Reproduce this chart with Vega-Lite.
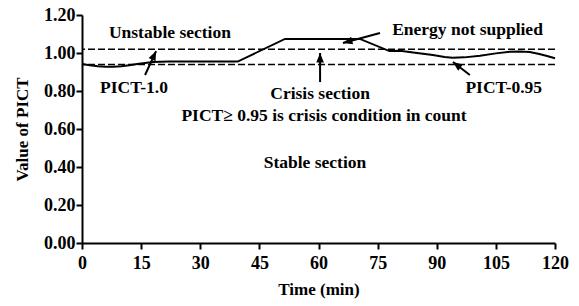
{
  "$schema": "https://vega.github.io/schema/vega-lite/v6.json",
  "width": 473,
  "height": 228,
  "autosize": {"type": "none"},
  "padding": {"left": 82, "top": 15, "right": 24, "bottom": 63},
  "background": "white",
  "config": {
    "view": {"stroke": null},
    "font": "Liberation Serif",
    "axis": {
      "domainColor": "black", "domainWidth": 2, "tickColor": "black", "tickWidth": 2, "tickSize": 6,
      "labelFont": "Liberation Serif", "labelFontSize": 18, "labelFontWeight": "bold", "labelColor": "black",
      "titleFont": "Liberation Serif", "titleFontSize": 17, "titleFontWeight": "bold", "titleColor": "black",
      "grid": false, "labelOverlap": false, "labelBound": false, "labelFlush": false
    }
  },
  "datasets": {
    "curve": [
      {"t": 0, "v": 0.942}, {"t": 2, "v": 0.935}, {"t": 4, "v": 0.930}, {"t": 6, "v": 0.928},
      {"t": 8, "v": 0.928}, {"t": 10, "v": 0.930}, {"t": 12, "v": 0.935}, {"t": 14, "v": 0.942},
      {"t": 16, "v": 0.948}, {"t": 18, "v": 0.952}, {"t": 20, "v": 0.954}, {"t": 22, "v": 0.955},
      {"t": 39.5, "v": 0.955}, {"t": 51.5, "v": 1.074}, {"t": 70.5, "v": 1.074}, {"t": 78, "v": 1.01},
      {"t": 80.7, "v": 1.012}, {"t": 84, "v": 1.003}, {"t": 89, "v": 0.989}, {"t": 92, "v": 0.979},
      {"t": 94, "v": 0.975}, {"t": 97, "v": 0.977}, {"t": 101, "v": 0.986}, {"t": 105, "v": 0.998},
      {"t": 108.6, "v": 1.006}, {"t": 111, "v": 1.008}, {"t": 113.6, "v": 1.005}, {"t": 116, "v": 0.995},
      {"t": 118, "v": 0.984}, {"t": 120, "v": 0.972}
    ],
    "refs": [{"v": 1.02}, {"v": 0.94}],
    "arrows": [
      {"t1": 16.0, "v1": 0.884, "t2": 18.8, "v2": 1.01, "ang": 25},
      {"t1": 60.4, "v1": 0.847, "t2": 60.4, "v2": 1.0, "ang": 0},
      {"t1": 75.6, "v1": 1.105, "t2": 66.2, "v2": 1.053, "ang": 255},
      {"t1": 98.4, "v1": 0.884, "t2": 94.1, "v2": 0.953, "ang": 307}
    ],
    "labels": [
      {"t": 22.3, "v": 1.105, "txt": "Unstable section"},
      {"t": 97.8, "v": 1.121, "txt": "Energy not supplied"},
      {"t": 13.2, "v": 0.816, "txt": "PICT-1.0"},
      {"t": 60.4, "v": 0.784, "txt": "Crisis section"},
      {"t": 107, "v": 0.816, "txt": "PICT-0.95"},
      {"t": 61.4, "v": 0.668, "txt": "PICT≥ 0.95 is crisis condition in count"},
      {"t": 59.1, "v": 0.421, "txt": "Stable section"}
    ]
  },
  "encoding": {
    "y": {"type": "quantitative", "scale": {"domain": [0, 1.2], "nice": false},
          "axis": {"tickCount": 6, "format": ".2f", "title": "Value of PICT", "labelPadding": 1, "titlePadding": 12, "labelOverlap": false}}
  },
  "layer": [
    {
      "data": {"name": "curve"},
      "mark": {"type": "line", "color": "black", "strokeWidth": 2},
      "encoding": {
        "x": {"field": "t", "type": "quantitative", "scale": {"domain": [0, 120], "nice": false},
              "axis": {"values": [0, 15, 30, 45, 60, 75, 90, 105, 120], "title": "Time (min)", "labelPadding": 5, "titlePadding": 9, "labelOverlap": false}},
        "y": {"field": "v", "type": "quantitative", "scale": {"domain": [0, 1.2], "nice": false},
              "axis": {"tickCount": 6, "format": ".2f", "title": "Value of PICT", "labelPadding": 1, "titlePadding": 12, "labelOverlap": false}}
      }
    },
    {
      "data": {"name": "refs"},
      "mark": {"type": "rule", "color": "black", "strokeWidth": 1.5, "strokeDash": [7, 3]},
      "encoding": {"y": {"field": "v", "type": "quantitative"}}
    },
    {
      "data": {"name": "arrows"},
      "mark": {"type": "rule", "color": "black", "strokeWidth": 2},
      "encoding": {
        "x": {"field": "t1", "type": "quantitative"},
        "y": {"field": "v1", "type": "quantitative"},
        "x2": {"field": "t2"},
        "y2": {"field": "v2"}
      }
    },
    {
      "data": {"name": "arrows"},
      "mark": {"type": "point", "shape": "M0,0 L-0.4,1 L0.4,1 Z", "filled": true, "color": "black", "opacity": 1, "size": 360},
      "encoding": {
        "x": {"field": "t2", "type": "quantitative"},
        "y": {"field": "v2", "type": "quantitative"},
        "angle": {"field": "ang", "type": "quantitative", "scale": null}
      }
    },
    {
      "data": {"name": "labels"},
      "mark": {"type": "text", "font": "Liberation Serif", "fontSize": 17.5, "fontWeight": "bold", "color": "black", "baseline": "middle", "align": "center"},
      "encoding": {
        "x": {"field": "t", "type": "quantitative"},
        "y": {"field": "v", "type": "quantitative"},
        "text": {"field": "txt"}
      }
    }
  ]
}
